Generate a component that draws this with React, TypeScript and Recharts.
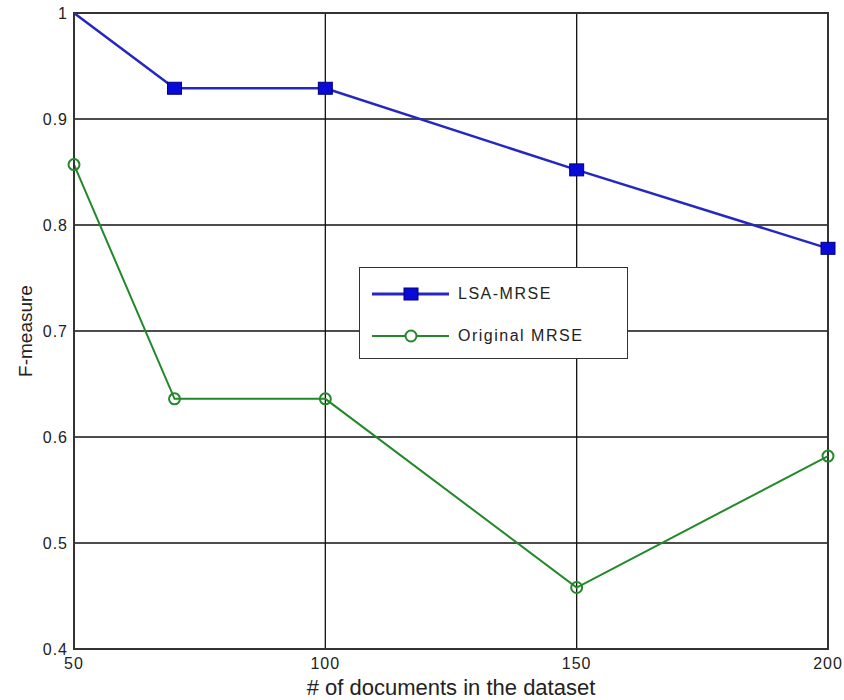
import React from 'react';
import { LineChart, Line, XAxis, YAxis, CartesianGrid, Legend, ReferenceArea } from 'recharts';

const docCounts = [50, 70, 100, 150, 200];
const lsaMrse = [1.0, 0.929, 0.929, 0.852, 0.778];
const originalMrse = [0.857, 0.636, 0.636, 0.458, 0.582];
const xTicks = [50, 100, 150, 200];
const yTicks = [0.4, 0.5, 0.6, 0.7, 0.8, 0.9, 1];
const seriesNames = ['LSA-MRSE', 'Original MRSE'];

const data = docCounts.map((d, i) => ({ docs: d, lsa: lsaMrse[i], orig: originalMrse[i] }));

const FONT = '"Liberation Sans", Arial, Helvetica, sans-serif';
const BLUE = '#2626c2';
const BLUE_FILL = '#0a0ad8';
const GREEN = '#23882a';

const SquareDot = (props: any) => {
  const { cx, cy, index } = props;
  if (index === 0 || cx == null || cy == null) return <g key={`s-${index}`} />;
  return (
    <rect key={`s-${index}`} x={cx - 7} y={cy - 6} width={14} height={12} fill={BLUE_FILL} stroke="#00007a" strokeWidth={1} />
  );
};

const LegendBox = () => (
  <div
    style={{
      width: 269,
      height: 92,
      boxSizing: 'border-box',
      border: '1.5px solid #333',
      background: '#fff',
      fontFamily: FONT,
      fontSize: 16,
      letterSpacing: 1.5,
      color: '#222',
      position: 'relative',
    }}
  >
    {seriesNames.map((name, i) => (
      <div key={name} style={{ position: 'absolute', left: 12, top: i === 0 ? 16 : 58, height: 20, display: 'flex', alignItems: 'center' }}>
        <svg width={80} height={20} style={{ display: 'block' }}>
          <line x1={0} y1={10} x2={77} y2={10} stroke={i === 0 ? BLUE : GREEN} strokeWidth={i === 0 ? 3 : 2} />
          {i === 0 ? (
            <rect x={32} y={4} width={14} height={12} fill={BLUE_FILL} stroke="#00007a" strokeWidth={1} />
          ) : (
            <circle cx={39} cy={10} r={5.5} fill="#fff" stroke={GREEN} strokeWidth={2} />
          )}
        </svg>
        <span style={{ marginLeft: 6 }}>{name}</span>
      </div>
    ))}
  </div>
);

const tickStyle = { fill: '#222', fontSize: 16, fontFamily: FONT, letterSpacing: 1 };

export default function App() {
  return (
    <div style={{ position: 'absolute', left: 0, top: 0, width: 844, height: 700, overflow: 'visible' }}>
      <LineChart width={844} height={700} data={data} margin={{ top: 13, right: 16, bottom: 0, left: 0 }} style={{ overflow: 'visible' }}>
        <CartesianGrid stroke="#111" strokeWidth={1.3} />
        <XAxis
          dataKey="docs"
          type="number"
          domain={[50, 200]}
          ticks={xTicks}
          height={51}
          tickLine={false}
          tickSize={0}
          tickMargin={9}
          axisLine={{ stroke: '#333', strokeWidth: 2 }}
          tick={tickStyle}
          label={{ value: '# of documents in the dataset', position: 'insideBottom', offset: 5, fill: '#222', fontSize: 22, fontFamily: FONT }}
        />
        <YAxis
          type="number"
          domain={[0.4, 1]}
          ticks={yTicks}
          width={74}
          tickLine={false}
          tickSize={0}
          tickMargin={6}
          axisLine={{ stroke: '#333', strokeWidth: 2 }}
          tick={tickStyle}
          tickFormatter={(v: number) => String(v)}
          label={{
            content: () => (
              <text x={25} y={331} transform="rotate(-90 25 331)" textAnchor="middle" dominantBaseline="central" fill="#222" fontSize={19} fontFamily={FONT}>
                F-measure
              </text>
            ),
          }}
        />
        <ReferenceArea x1={50} x2={200} y1={0.4} y2={1} fill="none" stroke="#333" strokeWidth={2} />
        <Line
          dataKey="lsa"
          name={seriesNames[0]}
          stroke={BLUE}
          strokeWidth={2.5}
          dot={SquareDot}
          isAnimationActive={false}
        />
        <Line
          dataKey="orig"
          name={seriesNames[1]}
          stroke={GREEN}
          strokeWidth={2}
          dot={{ r: 5.5, fill: 'none', stroke: GREEN, strokeWidth: 2 }}
          isAnimationActive={false}
        />
        <Legend
          layout="vertical"
          align="center"
          verticalAlign="middle"
          content={() => <LegendBox />}
          wrapperStyle={{ position: 'absolute', left: 359, top: 267, width: 269, height: 92, bottom: 'auto', right: 'auto', margin: 0 }}
        />
      </LineChart>
    </div>
  );
}
